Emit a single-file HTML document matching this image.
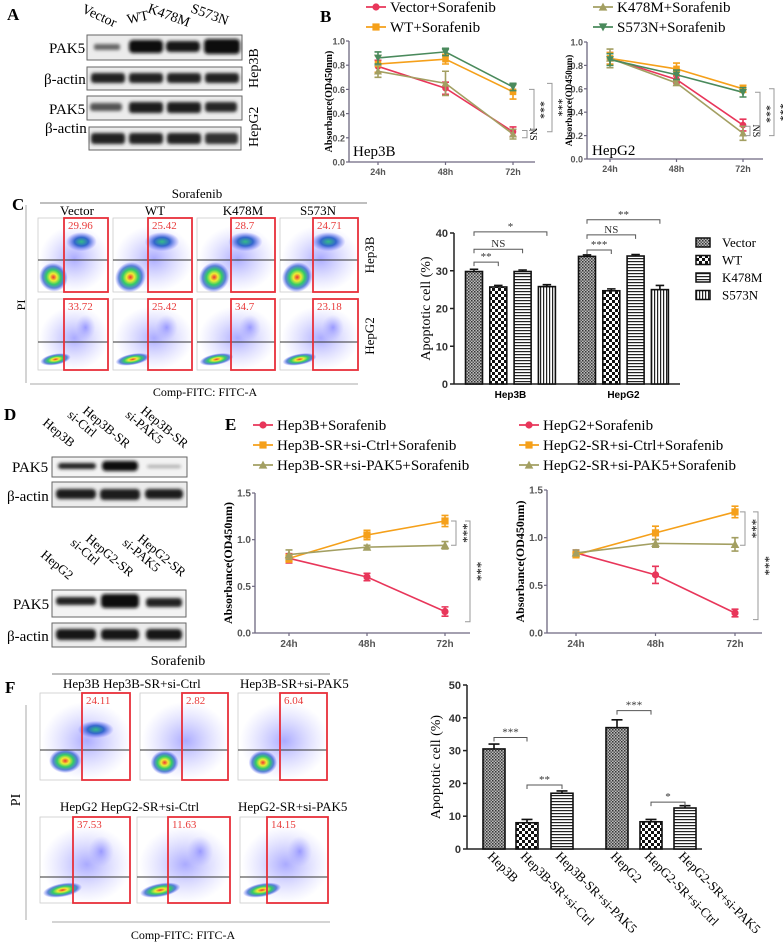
<!DOCTYPE html>
<html><head><meta charset="utf-8"><style>
html,body{margin:0;padding:0;background:#fff;}
svg{display:block;}
.serif{font-family:"Liberation Serif",serif;}
.sans{font-family:"Liberation Sans",sans-serif;}
</style></head><body>
<svg id="fig" xmlns="http://www.w3.org/2000/svg" width="783" height="952" viewBox="0 0 783 952">
<defs>
<filter id="blur" x="-20%" y="-50%" width="140%" height="200%"><feGaussianBlur stdDeviation="1.6"/></filter>
<radialGradient id="heat" cx="50%" cy="50%" r="50%">
<stop offset="0" stop-color="#e33"/><stop offset="0.25" stop-color="#ee3"/><stop offset="0.5" stop-color="#3c6"/><stop offset="0.75" stop-color="#36c" stop-opacity="0.8"/><stop offset="1" stop-color="#55f" stop-opacity="0"/></radialGradient>
<radialGradient id="heat2" cx="50%" cy="50%" r="50%">
<stop offset="0" stop-color="#3b8"/><stop offset="0.45" stop-color="#36c"/><stop offset="1" stop-color="#66f" stop-opacity="0"/></radialGradient>
<radialGradient id="dust" cx="50%" cy="50%" r="50%">
<stop offset="0" stop-color="#66f" stop-opacity="0.55"/><stop offset="1" stop-color="#99f" stop-opacity="0"/></radialGradient>
<pattern id="pVec" width="3" height="3" patternUnits="userSpaceOnUse"><rect width="3" height="3" fill="#bbb"/><rect width="1.5" height="1.5" fill="#333"/><rect x="1.5" y="1.5" width="1.5" height="1.5" fill="#555"/></pattern>
<pattern id="pWT" width="6" height="6" patternUnits="userSpaceOnUse"><rect width="6" height="6" fill="#fff"/><rect width="3" height="3" fill="#111"/><rect x="3" y="3" width="3" height="3" fill="#111"/></pattern>
<pattern id="pK" width="4" height="3" patternUnits="userSpaceOnUse"><rect width="4" height="3" fill="#fff"/><rect width="4" height="1.2" fill="#222"/></pattern>
<pattern id="pS" width="3" height="4" patternUnits="userSpaceOnUse"><rect width="3" height="4" fill="#fff"/><rect width="1.2" height="4" fill="#222"/></pattern>
</defs>

<!-- Panel A -->
<g class="serif">
<text x="7" y="20" font-size="17" font-weight="bold">A</text>
<text transform="translate(81,12) rotate(25)" font-size="14">Vector</text>
<text transform="translate(128,24) rotate(-12)" font-size="14">WT</text>
<text transform="translate(147,12) rotate(20)" font-size="14">K478M</text>
<text transform="translate(190,12) rotate(20)" font-size="14">S573N</text>
<rect x="87" y="35" width="155" height="25" fill="#ececec" stroke="#666"/>
<rect x="87" y="67" width="155" height="23" fill="#ececec" stroke="#666"/>
<rect x="87" y="96" width="155" height="24" fill="#ececec" stroke="#666"/>
<rect x="89" y="127" width="152" height="23" fill="#ececec" stroke="#666"/>
<g filter="url(#blur)">
<rect x="94" y="44" width="26" height="6" rx="2" fill="#666"/>
<rect x="129" y="40" width="34" height="13" rx="4" fill="#111"/>
<rect x="166" y="41" width="34" height="11" rx="4" fill="#151515"/>
<rect x="204" y="39" width="36" height="15" rx="4" fill="#0a0a0a"/>
<rect x="91" y="73" width="34" height="10" rx="3" fill="#222"/>
<rect x="129" y="73" width="34" height="10" rx="3" fill="#222"/>
<rect x="167" y="73" width="34" height="10" rx="3" fill="#222"/>
<rect x="205" y="73" width="34" height="10" rx="3" fill="#222"/>
<rect x="90" y="103" width="32" height="8" rx="3" fill="#555"/>
<rect x="129" y="102" width="34" height="11" rx="3" fill="#1a1a1a"/>
<rect x="167" y="102" width="34" height="11" rx="3" fill="#1a1a1a"/>
<rect x="205" y="102" width="32" height="10" rx="3" fill="#252525"/>
<rect x="91" y="133" width="34" height="11" rx="3" fill="#222"/>
<rect x="129" y="133" width="34" height="11" rx="3" fill="#222"/>
<rect x="167" y="133" width="34" height="11" rx="3" fill="#222"/>
<rect x="205" y="133" width="33" height="11" rx="3" fill="#333"/>
</g>
<text x="49" y="53" font-size="15">PAK5</text>
<text x="44" y="84" font-size="15">β-actin</text>
<text x="49" y="114" font-size="15">PAK5</text>
<text x="45" y="133" font-size="15">β-actin</text>
<text transform="translate(258,88) rotate(-90)" font-size="14">Hep3B</text>
<text transform="translate(258,147) rotate(-90)" font-size="14">HepG2</text>
</g>

<!-- Panel D -->
<g class="serif">
<text x="4" y="420" font-size="17" font-weight="bold">D</text>
<text transform="translate(42,424) rotate(40)" font-size="13">Hep3B</text>
<text transform="translate(82,412) rotate(40)" font-size="13"><tspan x="0" y="0">Hep3B-SR</tspan><tspan x="-9" y="13">si-Ctrl</tspan></text>
<text transform="translate(140,412) rotate(40)" font-size="13"><tspan x="0" y="0">Hep3B-SR</tspan><tspan x="-9" y="13">si-PAK5</tspan></text>
<text transform="translate(40,556) rotate(40)" font-size="13">HepG2</text>
<text transform="translate(85,540) rotate(40)" font-size="13"><tspan x="0" y="0">HepG2-SR</tspan><tspan x="-9" y="13">si-Ctrl</tspan></text>
<text transform="translate(137,540) rotate(40)" font-size="13"><tspan x="0" y="0">HepG2-SR</tspan><tspan x="-9" y="13">si-PAK5</tspan></text>
<rect x="52" y="457" width="135" height="20" fill="#f3f3f3" stroke="#666"/>
<rect x="52" y="482" width="135" height="25" fill="#ececec" stroke="#666"/>
<rect x="52" y="590" width="134" height="27" fill="#f3f3f3" stroke="#666"/>
<rect x="52" y="623" width="134" height="24" fill="#ececec" stroke="#666"/>
<g filter="url(#blur)">
<rect x="58" y="463" width="38" height="6" rx="3" fill="#222"/>
<rect x="102" y="461" width="36" height="10" rx="4" fill="#0d0d0d"/>
<rect x="147" y="465" width="34" height="3" rx="2" fill="#aaa"/>
<rect x="56" y="489" width="40" height="10" rx="4" fill="#1a1a1a"/>
<rect x="100" y="489" width="40" height="11" rx="4" fill="#1a1a1a"/>
<rect x="145" y="489" width="38" height="10" rx="4" fill="#1a1a1a"/>
<rect x="56" y="597" width="40" height="8" rx="3" fill="#222"/>
<rect x="101" y="594" width="38" height="14" rx="4" fill="#111"/>
<rect x="146" y="598" width="36" height="9" rx="3" fill="#222"/>
<rect x="56" y="629" width="40" height="11" rx="4" fill="#151515"/>
<rect x="101" y="629" width="38" height="11" rx="4" fill="#151515"/>
<rect x="146" y="629" width="36" height="11" rx="4" fill="#151515"/>
</g>
<text x="12" y="472" font-size="15">PAK5</text>
<text x="7" y="501" font-size="15">β-actin</text>
<text x="13" y="609" font-size="15">PAK5</text>
<text x="7" y="641" font-size="15">β-actin</text>
</g>

<!-- Panel C flow headers -->
<g class="serif">
<text x="12" y="210" font-size="17" font-weight="bold">C</text>
<text x="197" y="198" font-size="13" text-anchor="middle">Sorafenib</text>
<line x1="40" y1="203" x2="367" y2="203" stroke="#999" stroke-width="1.2"/>
<text x="77" y="215" font-size="13" text-anchor="middle">Vector</text>
<text x="155" y="215" font-size="13" text-anchor="middle">WT</text>
<text x="243" y="215" font-size="13" text-anchor="middle">K478M</text>
<text x="318" y="215" font-size="13" text-anchor="middle">S573N</text>
<line x1="26" y1="205" x2="26" y2="383" stroke="#aaa"/>
<line x1="30" y1="384" x2="358" y2="384" stroke="#aaa"/>
<text transform="translate(25,305) rotate(-90)" font-size="12" text-anchor="middle">PI</text>
<text x="205" y="396" font-size="12" text-anchor="middle">Comp-FITC: FITC-A</text>
<text transform="translate(374,255) rotate(-90)" font-size="13" text-anchor="middle">Hep3B</text>
<text transform="translate(374,336) rotate(-90)" font-size="13" text-anchor="middle">HepG2</text>
</g>

<!-- Panel F flow headers -->
<g class="serif">
<text x="5" y="693" font-size="17" font-weight="bold">F</text>
<text x="178" y="665" font-size="14" text-anchor="middle">Sorafenib</text>
<line x1="52" y1="674" x2="330" y2="674" stroke="#999" stroke-width="1.2"/>
<text x="63" y="688" font-size="13">Hep3B Hep3B-SR+si-Ctrl</text>
<text x="240" y="688" font-size="13">Hep3B-SR+si-PAK5</text>
<text x="60" y="811" font-size="13">HepG2 HepG2-SR+si-Ctrl</text>
<text x="238" y="811" font-size="13">HepG2-SR+si-PAK5</text>
<line x1="26" y1="705" x2="26" y2="920" stroke="#aaa"/>
<line x1="52" y1="922" x2="330" y2="922" stroke="#aaa"/>
<text transform="translate(20,800) rotate(-90)" font-size="14" text-anchor="middle">PI</text>
<text x="183" y="939" font-size="12" text-anchor="middle">Comp-FITC: FITC-A</text>
</g>

<text x="320" y="22" class="serif" font-size="17" font-weight="bold">B</text>
<text x="225" y="430" class="serif" font-size="17" font-weight="bold">E</text>
</svg>

<script>
const NS='http://www.w3.org/2000/svg';
const svg=document.getElementById('fig');
function el(tag,attrs,parent){const e=document.createElementNS(NS,tag);for(const k in attrs)e.setAttribute(k,attrs[k]);(parent||svg).appendChild(e);return e;}

/* ===== Data: Panel B ===== */
const bCats=['24h','48h','72h'];
const bTicks=[0,0.2,0.4,0.6,0.8,1.0];
const bTickLabels=['0.0','0.2','0.4','0.6','0.8','1.0'];
const bHep3B_vector=[0.79,0.61,0.25];
const bHep3B_vectorErr=[0.05,0.05,0.04];
const bHep3B_wt=[0.81,0.85,0.58];
const bHep3B_wtErr=[0.07,0.04,0.06];
const bHep3B_k478m=[0.75,0.65,0.23];
const bHep3B_k478mErr=[0.05,0.10,0.04];
const bHep3B_s573n=[0.86,0.91,0.62];
const bHep3B_s573nErr=[0.05,0.03,0.03];
const bHepG2_vector=[0.86,0.68,0.29];
const bHepG2_vectorErr=[0.05,0.03,0.05];
const bHepG2_wt=[0.86,0.77,0.60];
const bHepG2_wtErr=[0.05,0.05,0.03];
const bHepG2_k478m=[0.86,0.65,0.22];
const bHepG2_k478mErr=[0.08,0.02,0.06];
const bHepG2_s573n=[0.85,0.72,0.57];
const bHepG2_s573nErr=[0.05,0.04,0.04];

/* ===== Data: Panel E ===== */
const eCats=['24h','48h','72h'];
const eTicks=[0,0.5,1.0,1.5];
const eTickLabels=['0.0','0.5','1.0','1.5'];
const eHep3B_par=[0.80,0.60,0.23];
const eHep3B_parErr=[0.05,0.04,0.05];
const eHep3B_ctrl=[0.80,1.05,1.20];
const eHep3B_ctrlErr=[0.04,0.05,0.06];
const eHep3B_pak5=[0.84,0.92,0.94];
const eHep3B_pak5Err=[0.05,0.02,0.04];
const eHepG2_par=[0.84,0.61,0.21];
const eHepG2_parErr=[0.03,0.09,0.04];
const eHepG2_ctrl=[0.82,1.05,1.27];
const eHepG2_ctrlErr=[0.03,0.07,0.06];
const eHepG2_pak5=[0.84,0.94,0.93];
const eHepG2_pak5Err=[0.03,0.04,0.07];

/* ===== Data: Panel C bars ===== */
const cGroups=['Hep3B','HepG2'];
const cSeries=['Vector','WT','K478M','S573N'];
const cTicks=[0,10,20,30,40];
const cHep3B=[29.8,25.7,29.8,25.8];
const cHep3BErr=[0.6,0.4,0.4,0.5];
const cHepG2=[33.8,24.7,33.9,25.0];
const cHepG2Err=[0.4,0.5,0.4,1.1];

/* ===== Data: Panel F bars ===== */
const fCats=['Hep3B','Hep3B-SR+si-Ctrl','Hep3B-SR+si-PAK5','HepG2','HepG2-SR+si-Ctrl','HepG2-SR+si-PAK5'];
const fTicks=[0,10,20,30,40,50];
const fValues=[30.5,8.0,17.0,37.0,8.3,12.5];
const fErr=[1.5,1.0,0.7,2.4,0.7,0.7];

/* ===== Data: flow gate percentages ===== */
const cGate=[29.96,25.42,28.7,24.71,33.72,25.42,34.7,23.18];
const fGate=[24.11,2.82,6.04,37.53,11.63,14.15];

const RED='#e8365a',ORG='#f5a01a',OLV='#a39f62',GRN='#4a8a5c';
const AX='#6d6880';

function marker(g,type,x,y,c,s){
  let m;
  if(type==='circle')m=el('circle',{cx:x,cy:y,r:s,fill:c},g);
  else if(type==='square')m=el('rect',{x:x-s,y:y-s,width:2*s,height:2*s,fill:c},g);
  else if(type==='up')m=el('polygon',{points:`${x},${y-s*1.2} ${x-s*1.2},${y+s} ${x+s*1.2},${y+s}`,fill:c},g);
  else m=el('polygon',{points:`${x},${y+s*1.2} ${x-s*1.2},${y-s} ${x+s*1.2},${y-s}`,fill:c},g);
  return m;
}

function lineChart(cfg,cats,ticks,tickLabels,series){
  const g=el('g',{});
  
  
  const X=i=>cfg.c0+i*cfg.step;
  const Y=v=>cfg.yBot-(v/cfg.yMax)*(cfg.yBot-cfg.yTop);
  const ya=el('line',{x1:cfg.x0,y1:cfg.yTop,x2:cfg.x0,y2:cfg.yBot,stroke:AX,'stroke-width':1.3},g);
  
  
  const xa=el('line',{x1:cfg.x0,y1:cfg.yBot,x2:cfg.xEnd,y2:cfg.yBot,stroke:AX,'stroke-width':1.3},g);
  
  
  ticks.forEach((t,i)=>{
    el('line',{x1:cfg.x0-3,y1:Y(t),x2:cfg.x0,y2:Y(t),stroke:AX,'stroke-width':1.2},g);
    const tl=el('text',{x:cfg.x0-4,y:Y(t)+3.5,'font-size':cfg.tf,'font-weight':'bold','text-anchor':'end',fill:'#555','font-family':'Liberation Sans, sans-serif'},g);
    tl.textContent=tickLabels[i];
    
    
  });
  cats.forEach((c,i)=>{
    el('line',{x1:X(i),y1:cfg.yBot,x2:X(i),y2:cfg.yBot+3,stroke:AX,'stroke-width':1.2},g);
    const tl=el('text',{x:X(i),y:cfg.yBot+cfg.tf+4,'font-size':cfg.tf,'font-weight':'bold','text-anchor':'middle',fill:'#555','font-family':'Liberation Sans, sans-serif'},g);
    tl.textContent=c;
    
    
  });
  const yl=el('text',{transform:`translate(${cfg.ylx},${(cfg.yTop+cfg.yBot)/2}) rotate(-90)`,'font-size':cfg.ylf,'font-weight':'bold','text-anchor':'middle','font-family':'Liberation Serif, serif'},g);
  yl.textContent='Absorbance(OD450nm)';
  
  
  series.forEach(s=>{
    const sg=el('g',{},g);
    
    
    const pl=el('polyline',{points:s.v.map((v,i)=>X(i)+','+Y(v)).join(' '),fill:'none',stroke:s.c,'stroke-width':1.6},sg);
    
    
    s.v.forEach((v,i)=>{
      const e=s.e[i];
      const eb=el('path',{d:`M${X(i)},${Y(v+e)}V${Y(v-e)}M${X(i)-3.5},${Y(v+e)}h7M${X(i)-3.5},${Y(v-e)}h7`,stroke:s.c,'stroke-width':1.6,fill:'none'},sg);
      
      
      const m=marker(sg,s.m,X(i),Y(v),s.c,cfg.ms);
      
      
    });
  });
  (cfg.sig||[]).forEach(b=>{
    const p=el('path',{d:`M${b.x-5},${Y(b.a)}H${b.x}V${Y(b.b)}H${b.x-5}`,fill:'none',stroke:'#999','stroke-width':1},g);
    
    
    const t=el('text',{transform:`translate(${b.x+3},${(Y(b.a)+Y(b.b))/2}) rotate(90)`,'font-size':b.fs||12,'text-anchor':'middle','font-family':'Liberation Serif, serif'},g);
    t.textContent=b.t;
    
    
  });
  return g;
}

function legend(items,x,y0,dy,fs){
  const g=el('g',{});
  
  
  items.forEach((it,i)=>{
    const y=y0+i*dy;
    const lg=el('g',{},g);
    
    
    el('line',{x1:x,y1:y,x2:x+20,y2:y,stroke:it.c,'stroke-width':1.8},lg);
    marker(lg,it.m,x+10,y,it.c,3.6);
    const t=el('text',{x:x+24,y:y+5,'font-size':fs,'font-family':'Liberation Serif, serif'},lg);
    t.textContent=it.t;
  });
}

/* ---- Panel B ---- */
legend([{t:'Vector+Sorafenib',c:RED,m:'circle'},{t:'WT+Sorafenib',c:ORG,m:'square'}],366,7,20,15);
legend([{t:'K478M+Sorafenib',c:OLV,m:'up'},{t:'S573N+Sorafenib',c:GRN,m:'down'}],593,7,20,15);
lineChart({name:'chart-b-hep3b',x0:349,xEnd:535,yTop:41,yBot:162,yMax:1,c0:378,step:67.5,tf:9,ylf:10,ylx:332,ms:3.3,
 sig:[{x:527,a:0.26,b:0.2,t:'NS',fs:10},{x:534,a:0.6,b:0.26,t:'***'},{x:552,a:0.65,b:0.25,t:'***'}]},
 bCats,bTicks,bTickLabels,[
 {key:'vector',v:bHep3B_vector,e:bHep3B_vectorErr,c:RED,m:'circle'},
 {key:'wt',v:bHep3B_wt,e:bHep3B_wtErr,c:ORG,m:'square'},
 {key:'k478m',v:bHep3B_k478m,e:bHep3B_k478mErr,c:OLV,m:'up'},
 {key:'s573n',v:bHep3B_s573n,e:bHep3B_s573nErr,c:GRN,m:'down'}]);
lineChart({name:'chart-b-hepg2',x0:587,xEnd:763,yTop:42,yBot:159,yMax:1,c0:610,step:66.5,tf:9,ylf:9,ylx:572,ms:3.3,
 sig:[{x:750,a:0.28,b:0.2,t:'NS',fs:10},{x:760,a:0.57,b:0.2,t:'***'},{x:774,a:0.6,b:0.2,t:'***'}]},
 bCats,bTicks,bTickLabels,[
 {key:'vector',v:bHepG2_vector,e:bHepG2_vectorErr,c:RED,m:'circle'},
 {key:'wt',v:bHepG2_wt,e:bHepG2_wtErr,c:ORG,m:'square'},
 {key:'k478m',v:bHepG2_k478m,e:bHepG2_k478mErr,c:OLV,m:'up'},
 {key:'s573n',v:bHepG2_s573n,e:bHepG2_s573nErr,c:GRN,m:'down'}]);
(function(){const t=el('text',{x:353,y:156,'font-size':15,'font-family':'Liberation Serif, serif'});t.textContent='Hep3B';


const t2=el('text',{x:592,y:155,'font-size':15,'font-family':'Liberation Serif, serif'});t2.textContent='HepG2';

})();

/* ---- Panel E ---- */
legend([{t:'Hep3B+Sorafenib',c:RED,m:'circle'},{t:'Hep3B-SR+si-Ctrl+Sorafenib',c:ORG,m:'square'},{t:'Hep3B-SR+si-PAK5+Sorafenib',c:OLV,m:'up'}],253,425,20,15);
legend([{t:'HepG2+Sorafenib',c:RED,m:'circle'},{t:'HepG2-SR+si-Ctrl+Sorafenib',c:ORG,m:'square'},{t:'HepG2-SR+si-PAK5+Sorafenib',c:OLV,m:'up'}],519,425,20,15);
lineChart({name:'chart-e-hep3b',x0:255,xEnd:470,yTop:493,yBot:633,yMax:1.5,c0:289,step:78,tf:10,ylf:12,ylx:232,ms:3.6,
 sig:[{x:456,a:1.2,b:0.94,t:'***',fs:13},{x:470,a:1.2,b:0.12,t:'***',fs:13}]},
 eCats,eTicks,eTickLabels,[
 {key:'parental',v:eHep3B_par,e:eHep3B_parErr,c:RED,m:'circle'},
 {key:'si-ctrl',v:eHep3B_ctrl,e:eHep3B_ctrlErr,c:ORG,m:'square'},
 {key:'si-pak5',v:eHep3B_pak5,e:eHep3B_pak5Err,c:OLV,m:'up'}]);
lineChart({name:'chart-e-hepg2',x0:547,xEnd:762,yTop:490,yBot:633,yMax:1.5,c0:576,step:79.5,tf:10,ylf:12,ylx:524,ms:3.6,
 sig:[{x:745,a:1.27,b:0.92,t:'***',fs:13},{x:758,a:1.27,b:0.14,t:'***',fs:13}]},
 eCats,eTicks,eTickLabels,[
 {key:'parental',v:eHepG2_par,e:eHepG2_parErr,c:RED,m:'circle'},
 {key:'si-ctrl',v:eHepG2_ctrl,e:eHepG2_ctrlErr,c:ORG,m:'square'},
 {key:'si-pak5',v:eHepG2_pak5,e:eHepG2_pak5Err,c:OLV,m:'up'}]);

/* ---- Bar charts ---- */
function barAxis(g,cfg,ticks){
  const Y=v=>cfg.yBot-(v/cfg.yMax)*(cfg.yBot-cfg.yTop);
  const ya=el('line',{x1:cfg.x0,y1:cfg.yTop,x2:cfg.x0,y2:cfg.yBot,stroke:'#222','stroke-width':1.5},g);
  
  
  const xa=el('line',{x1:cfg.x0,y1:cfg.yBot,x2:cfg.xEnd,y2:cfg.yBot,stroke:'#222','stroke-width':1.5},g);
  
  
  ticks.forEach(t=>{
    el('line',{x1:cfg.x0-4,y1:Y(t),x2:cfg.x0,y2:Y(t),stroke:'#222','stroke-width':1.5},g);
    const tl=el('text',{x:cfg.x0-6,y:Y(t)+4,'font-size':11,'font-weight':'bold','text-anchor':'end',fill:'#333','font-family':'Liberation Sans, sans-serif'},g);
    tl.textContent=String(t);
    
    
  });
  const yl=el('text',{transform:`translate(${cfg.ylx},${(cfg.yTop+cfg.yBot)/2}) rotate(-90)`,'font-size':14,'text-anchor':'middle','font-family':'Liberation Serif, serif'},g);
  yl.textContent='Apoptotic cell (%)';
  
  
  return Y;
}
function bar(g,x,w,v,e,Y,fill,name){
  const b=el('rect',{x:x-w/2,y:Y(v),width:w,height:Y(0)-Y(v),fill:fill,stroke:'#111','stroke-width':1.6},g);
  
  
  const eb=el('path',{d:`M${x},${Y(v)}V${Y(v+e)}M${x-w/4},${Y(v+e)}h${w/2}`,stroke:'#111','stroke-width':1.6,fill:'none'},g);
  
  
}
function bracket(g,x1,x2,yy,t,Y){
  const p=el('path',{d:`M${x1},${Y(yy)+4}V${Y(yy)}H${x2}V${Y(yy)+4}`,fill:'none',stroke:'#555','stroke-width':1},g);
  
  
  const tt=el('text',{x:(x1+x2)/2,y:Y(yy)-2,'font-size':11,'text-anchor':'middle','font-family':'Liberation Serif, serif',fill:'#333'},g);
  tt.textContent=t;
  
  
}
const pats=['url(#pVec)','url(#pWT)','url(#pK)','url(#pS)'];
(function(){
  const g=el('g',{});
  
  
  const cfg={x0:454,xEnd:680,yTop:233,yBot:384,yMax:40,ylx:430};
  const Y=barAxis(g,cfg,cTicks);
  const gx0=[474,587],step=24.3,w=17;
  [cHep3B,cHepG2].forEach((vals,gi)=>{
    const errs=gi?cHepG2Err:cHep3BErr;
    vals.forEach((v,i)=>bar(g,gx0[gi]+i*step,w,v,errs[i],Y,pats[i],'bar-'+cGroups[gi].toLowerCase()+'-'+cSeries[i].toLowerCase()));
    const lab=el('text',{x:gx0[gi]+1.5*step,y:cfg.yBot+14,'font-size':10,'font-weight':'bold','text-anchor':'middle','font-family':'Liberation Sans, sans-serif'},g);
    lab.textContent=cGroups[gi];
    
    
  });
  const X=(gi,i)=>gx0[gi]+i*step;
  bracket(g,X(0,0),X(0,1),32.3,'**',Y);
  bracket(g,X(0,0),X(0,2),35.7,'NS',Y);
  bracket(g,X(0,0),X(0,3),40.3,'*',Y);
  bracket(g,X(1,0),X(1,1),35.5,'***',Y);
  bracket(g,X(1,0),X(1,2),39.5,'NS',Y);
  bracket(g,X(1,0),X(1,3),43.5,'**',Y);
  const lg=el('g',{},g);
  
  
  cSeries.forEach((s,i)=>{
    const y=243+i*17.5;
    const e=el('rect',{x:696,y:y-5,width:14,height:9,fill:pats[i],stroke:'#111','stroke-width':1.5},lg);
    
    
    const t=el('text',{x:722,y:y+4,'font-size':13,'font-family':'Liberation Serif, serif'},lg);
    t.textContent=s;
    
    
  });
})();
(function(){
  const g=el('g',{});
  
  
  const cfg={x0:467,xEnd:702,yTop:685,yBot:849,yMax:50,ylx:440};
  const Y=barAxis(g,cfg,fTicks);
  const xs=[494,527,562,617,651,685];
  const fp=['url(#pVec)','url(#pWT)','url(#pK)','url(#pVec)','url(#pWT)','url(#pK)'];
  fValues.forEach((v,i)=>{
    bar(g,xs[i],22,v,fErr[i],Y,fp[i],'bar-'+fCats[i].toLowerCase());
    const t=el('text',{transform:`translate(${xs[i]-7},${cfg.yBot+8}) rotate(45)`,'font-size':13,'font-family':'Liberation Serif, serif'},g);
    t.textContent=fCats[i];
    
    
  });
  bracket(g,xs[0],xs[1],34,'***',Y);
  bracket(g,xs[1],xs[2],19.5,'**',Y);
  bracket(g,xs[3],xs[4],42.2,'***',Y);
  bracket(g,xs[4],xs[5],14.3,'*',Y);
})();

/* ---- Flow plots ---- */
function flow(x0,y0,x1,y1,qy,gx,val,kind,name){
  const g=el('g',{});
  
  
  const w=x1-x0,h=y1-y0;
  el('rect',{x:x0,y:y0,width:w,height:h,fill:'#fff',stroke:'#ccc','stroke-width':0.8},g);
  el('ellipse',{cx:x0+w*0.52,cy:y0+h*0.55,rx:w*0.5,ry:h*0.45,fill:'url(#dust)'},g);
  if(kind==='hi'){
    el('ellipse',{cx:x0+w*0.22,cy:y0+h*0.8,rx:w*0.2,ry:h*0.2,fill:'url(#heat)',transform:`rotate(-40 ${x0+w*0.22} ${y0+h*0.8})`},g);
    el('ellipse',{cx:x0+w*0.62,cy:y0+h*0.32,rx:w*0.22,ry:h*0.13,fill:'url(#heat2)'},g);
  } else if(kind==='lo'){
    el('ellipse',{cx:x0+w*0.25,cy:y0+h*0.85,rx:w*0.22,ry:h*0.08,fill:'url(#heat)',transform:`rotate(-10 ${x0+w*0.25} ${y0+h*0.85})`},g);
    el('ellipse',{cx:x0+w*0.68,cy:y0+h*0.4,rx:w*0.14,ry:h*0.18,fill:'url(#dust)'},g);
  } else if(kind==='f1'){
    el('ellipse',{cx:x0+w*0.28,cy:y0+h*0.78,rx:w*0.18,ry:h*0.14,fill:'url(#heat)'},g);
    el('ellipse',{cx:x0+w*0.62,cy:y0+h*0.42,rx:w*0.2,ry:h*0.1,fill:'url(#heat2)'},g);
  } else {
    el('ellipse',{cx:x0+w*0.28,cy:y0+h*0.8,rx:w*0.16,ry:h*0.14,fill:'url(#heat)'},g);
  }
  el('line',{x1:x0,y1:qy,x2:x1,y2:qy,stroke:'#333','stroke-width':1},g);
  const gate=el('rect',{x:gx,y:y0,width:x1-gx,height:h,fill:'none',stroke:'#e8303a','stroke-width':1.8},g);
  
  
  const t=el('text',{x:gx+4,y:y0+11,'font-size':11,fill:'#e83a3a','font-family':'Liberation Serif, serif'},g);
  t.textContent=String(val);
  
  
}
const cx0=[38,113,197,280],cx1=[108,192,275,358],cgx=[64,148,231,313];
for(let i=0;i<4;i++){
  flow(cx0[i],218,cx1[i],292,260,cgx[i],cGate[i],'hi','flow-c-hep3b-'+i);
  flow(cx0[i],299,cx1[i],370,342,cgx[i],cGate[4+i],'lo','flow-c-hepg2-'+i);
}
const fx0a=[40,140,238],fx1a=[130,228,327],fgxa=[82,182,280];
const fx0b=[40,137,240],fx1b=[130,230,328],fgxb=[73,168,267];
for(let i=0;i<3;i++){
  flow(fx0a[i],693,fx1a[i],780,750,fgxa[i],fGate[i],i===0?'f1':'f2','flow-f-hep3b-'+i);
  flow(fx0b[i],817,fx1b[i],903,877,fgxb[i],fGate[3+i],'lo','flow-f-hepg2-'+i);
}
</script>
</body></html>
